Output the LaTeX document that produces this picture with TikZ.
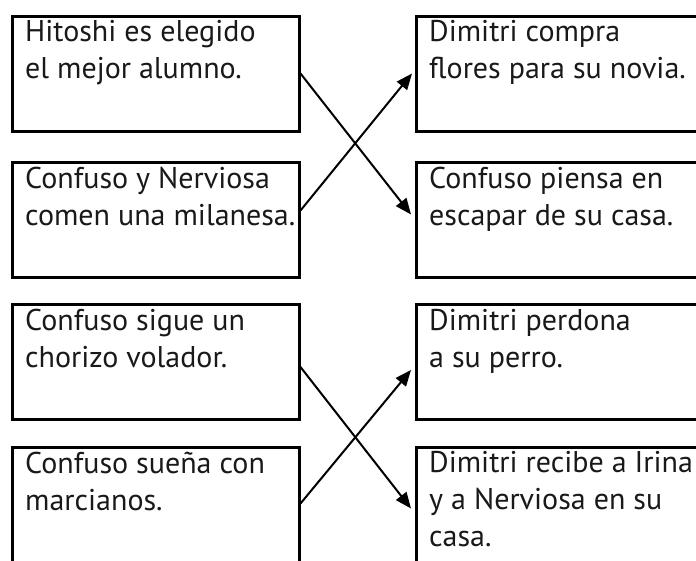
\documentclass[tikz,border=0pt]{standalone}
\usepackage{fontspec}
\setmainfont{PT Sans}
\usetikzlibrary{arrows.meta}

\tikzset{
  caja/.style={draw, line width=3pt, minimum width=286.5pt, minimum height=115pt,
    inner sep=0pt, anchor=north west},
  texto/.style={anchor=north west, align=left, inner sep=0pt,
    font=\fontsize{30}{37}\selectfont, execute at begin node=\strut, text=black!90},
  flecha/.style={line width=2pt, -{Triangle[length=16pt,width=13pt]}}
}

\begin{document}
\begin{tikzpicture}[x=1pt,y=-1pt]
\useasboundingbox (0,0) rectangle (696,560);
\clip (0,0) rectangle (696,560);

% left column
\node [caja] (hitoshi) at (11,14.5) {};
\node [caja] (milanesa) at (11,160.5) {};
\node [caja] (chorizo) at (11,303) {};
\node [caja] (marcianos) at (11,445.5) {};

% right column (cut off at the right border)
\node [caja] (flores) at (415,14.5) {};
\node [caja] (escapar) at (415,160.5) {};
\node [caja] (perro) at (415,303) {};
\node [caja] (irina) at (415,445.5) {};

% texts
\node [texto] (t1) at ([shift={(14pt,-6pt)}]hitoshi.north west) {Hitoshi es elegido\\el mejor alumno.};
\node [texto] (t2) at ([shift={(14pt,-6pt)}]milanesa.north west) {Confuso y Nerviosa\\comen una milanesa.};
\node [texto] (t3) at ([shift={(14pt,-6pt)}]chorizo.north west) {Confuso sigue un\\chorizo volador.};
\node [texto] (t4) at ([shift={(14pt,-6pt)}]marcianos.north west) {Confuso sueña con\\marcianos.};
\node [texto] (t5) at ([shift={(14pt,-6pt)}]flores.north west) {Dimitri compra\\flores para su novia.};
\node [texto] (t6) at ([shift={(14pt,-6pt)}]escapar.north west) {Confuso piensa en\\escapar de su casa.};
\node [texto] (t7) at ([shift={(14pt,-6pt)}]perro.north west) {Dimitri perdona\\a su perro.};
\node [texto] (t8) at ([shift={(14pt,-6pt)}]irina.north west) {Dimitri recibe a Irina\\y a Nerviosa en su\\casa.};

% arrows
\draw [flecha] (hitoshi.east) -- ([shift={(-4pt,5pt)}]escapar.west);
\draw [flecha] ([yshift=9pt]milanesa.east) -- ([xshift=-3pt]flores.west);
\draw [flecha] ([yshift=-5pt]chorizo.east) -- ([shift={(-4pt,-4pt)}]irina.west);
\draw [flecha] ([yshift=1pt]marcianos.east) -- ([shift={(-4pt,-8pt)}]perro.west);

\end{tikzpicture}
\end{document}
